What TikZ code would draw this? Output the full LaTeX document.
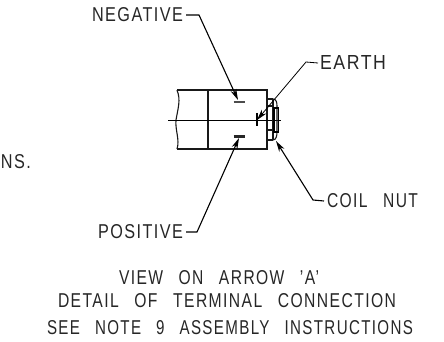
\documentclass[tikz,border=0pt]{standalone}
\usepackage{fontspec}
\setmainfont{Liberation Sans}[LetterSpace=9,WordSpace=1.35]
\usetikzlibrary{arrows.meta}
\newcommand{\fittext}[3]{\resizebox{#1pt}{#2pt}{#3}}
\tikzset{
  lab/.style={inner sep=0pt,outer sep=0pt,text=black!85},
  body/.style={line width=1.1pt,draw=black!90},
  leader/.style={line width=1.1pt,draw=black},
  arr/.style={leader,-{Stealth[length=11pt,width=6pt]}},
}
\begin{document}
\begin{tikzpicture}[x=1pt,y=-1pt]
\useasboundingbox (0,0) rectangle (444,342);
% labels
\node[lab,anchor=west] (neg) at (92,15) {\fittext{91}{14}{NEGATIVE}};
\node[lab,anchor=west] (earth) at (320,63) {\fittext{66}{14}{EARTH}};
\node[lab,anchor=west] (coil) at (327,201) {\fittext{91}{14}{COIL\ \ NUT}};
\node[lab,anchor=west] (pos) at (98,232) {\fittext{85}{14}{POSITIVE}};
\node[lab,anchor=west] (ns) at (1,162) {\fittext{30}{14}{NS.}};
\node[lab,anchor=west] (t1) at (119,278) {\fittext{200}{14}{VIEW\ \ ON\ \ ARROW\ \ 'A'}};
\node[lab,anchor=west] (t2) at (58,301) {\fittext{338}{14}{DETAIL\ \ OF\ \ TERMINAL\ \ CONNECTION}};
\node[lab,anchor=west] (t3) at (47,328) {\fittext{366}{14}{SEE\ \ NOTE\ \ 9\ \ ASSEMBLY\ \ INSTRUCTIONS}};
% body
\draw[body] (177,90) -- (267,90) -- (267,149) -- (177,149);
\draw[body] (208,90) -- (208,149);
\draw[body] (177,90) .. controls (181,100) and (178,108) .. (176,120) .. controls (175,130) and (180,140) .. (177,149);
\draw[line width=0.9pt] (168,120) -- (281,120);
% nut
\draw[body] (267,99) -- (273,99) (267,106) -- (273,106) (267,130) -- (273,130) (267,140) -- (273,140);
\draw[body] (273,99) -- (273,140);
\draw[body] (273,99) .. controls (276,99) and (277,102) .. (277,106) -- (277,132) .. controls (277,136) and (276,140) .. (273,140);
\draw[line width=1.2pt] (274,108) rectangle (278.5,132);
% leaders
\coordinate (negb) at (199,15);
\coordinate (negt) at (238,100);
\coordinate (earb) at (306,62);
\coordinate (eart) at (257,120);
\coordinate (coib) at (313,200);
\coordinate (coit) at (276,141);
\coordinate (posb) at (197,232);
\coordinate (post) at (239,138);
\draw[arr] ([xshift=3pt]neg.east) -- (negb) -- (negt);
\draw[arr,line width=0.8pt] ([xshift=-2pt]earth.west) -- (earb) -- (eart);
\draw[arr] ([xshift=-3pt]coil.west) -- (coib) -- (coit);
\draw[arr] ([xshift=3pt]pos.east) -- (posb) -- (post);
% terminals
\draw[line width=2pt,draw=black!70] (233.5,102.5) -- (244.5,102.5);
\draw[line width=2.4pt,draw=black!85] (233.5,136.5) -- (244.5,136.5);
\draw[line width=2.2pt] (257,113) -- (257,126);
\end{tikzpicture}
\end{document}
